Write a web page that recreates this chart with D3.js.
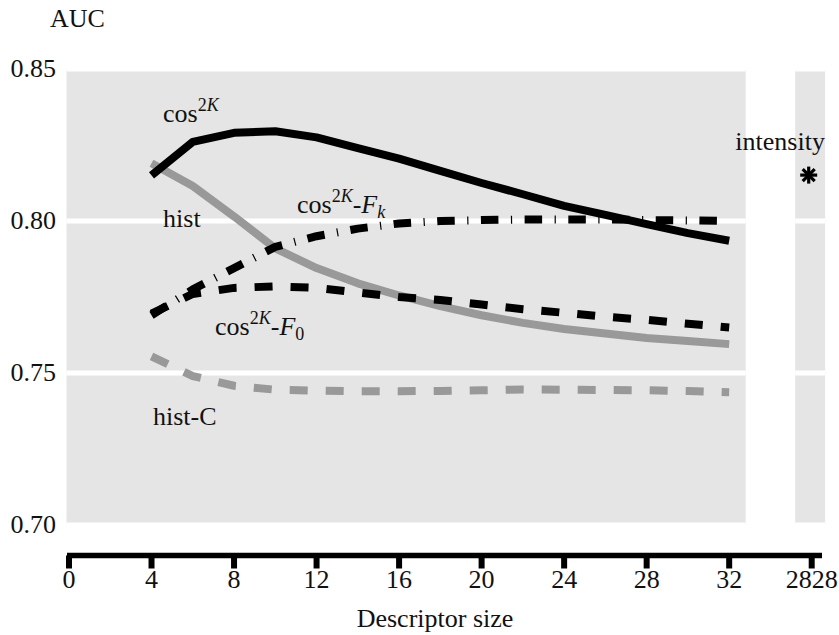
<!DOCTYPE html>
<html>
<head>
<meta charset="utf-8">
<script src="https://cdn.jsdelivr.net/npm/d3@7"></script>
<style>
  body { margin: 0; background: #fff; }
</style>
</head>
<body>
<svg id="chart" width="839" height="635"></svg>
<script>
// descriptor sizes on the x axis
var sizes = [4, 6, 8, 10, 12, 14, 16, 18, 20, 22, 24, 26, 28, 30, 32];

// AUC per descriptor size
var cos2K   = [0.815, 0.826, 0.829, 0.8295, 0.8275, 0.824, 0.8205, 0.8165, 0.8125, 0.8088, 0.805, 0.802, 0.799, 0.796, 0.7935];
var hist    = [0.819, 0.8115, 0.8015, 0.791, 0.7845, 0.7795, 0.7755, 0.772, 0.769, 0.7665, 0.7645, 0.763, 0.7615, 0.7605, 0.7595];
var cos2KF0 = [0.7695, 0.776, 0.778, 0.7785, 0.778, 0.7765, 0.775, 0.774, 0.7725, 0.771, 0.7698, 0.7685, 0.7675, 0.7662, 0.765];
var cos2KFk = [0.769, 0.7775, 0.7845, 0.7915, 0.795, 0.7975, 0.7992, 0.80, 0.8003, 0.8005, 0.8005, 0.8005, 0.8003, 0.8002, 0.80];
var histC   = [0.7555, 0.749, 0.7458, 0.7445, 0.7442, 0.744, 0.744, 0.7441, 0.7443, 0.7446, 0.7445, 0.7444, 0.7443, 0.7441, 0.7437];

// single "intensity" result, shown in its own strip at the far right
var intensityPos = 36;
var intensityAUC = 0.8151;

// axis ticks
var xTicks = [0, 4, 8, 12, 16, 20, 24, 28, 32, 36];
var xTickLabels = ['0', '4', '8', '12', '16', '20', '24', '28', '32', '2828'];
var yTicks = [0.70, 0.75, 0.80, 0.85];

var series = [
  { name: 'histC',   values: histC,   color: '#999', dash: '18,18' },
  { name: 'hist',    values: hist,    color: '#999', dash: null },
  { name: 'cos2KF0', values: cos2KF0, color: '#000', dash: '18,18' },
  { name: 'cos2KFk', values: cos2KFk, color: '#000', dash: '17.5,12.5,1.2,12.5' },
  { name: 'cos2K',   values: cos2K,   color: '#000', dash: null }
];

var FONT = '"Liberation Serif", "Times New Roman", serif';
var svg = d3.select('#chart');

var x = d3.scaleLinear().domain([0, 36]).range([69, 811.7]);
var y = d3.scaleLinear().domain([0.70, 0.85]).range([525, 69]);

// background strips
var strips = [[-0.12, 32.8], [35.2, 36.65]];
svg.selectAll('rect.strip')
  .data(strips)
  .enter()
  .append('rect')
  .attr('class', 'strip')
  .attr('x', d => x(d[0]))
  .attr('width', d => x(d[1]) - x(d[0]))
  .attr('y', y(0.85))
  .attr('height', y(0.70) - y(0.85))
  .attr('fill', '#e5e5e5');

// white grid lines over the strips
strips.forEach(function(s) {
  svg.selectAll(null)
    .data(yTicks)
    .enter()
    .append('line')
    .attr('x1', x(s[0])).attr('x2', x(s[1]))
    .attr('y1', d => y(d)).attr('y2', d => y(d))
    .attr('stroke', '#fff')
    .attr('stroke-width', 5);
});

// y tick labels
svg.selectAll('text.ylab')
  .data(yTicks)
  .enter()
  .append('text')
  .attr('class', 'ylab')
  .attr('x', 56)
  .attr('y', d => y(d) + 8)
  .attr('text-anchor', 'end')
  .attr('font-size', 26)
  .text(d => d3.format('.2f')(d));

// x axis: thick bar with stubby ticks
var axisY = 555.5;
svg.append('line')
  .attr('x1', x(0) - 2).attr('x2', x(36.5))
  .attr('y1', axisY).attr('y2', axisY)
  .attr('stroke', '#000')
  .attr('stroke-width', 5.5);

svg.selectAll('rect.tick')
  .data(xTicks)
  .enter()
  .append('rect')
  .attr('class', 'tick')
  .attr('x', d => x(d) - 3)
  .attr('y', axisY)
  .attr('width', 6)
  .attr('height', 13)
  .attr('fill', '#000');

svg.selectAll('text.xlab')
  .data(xTicks)
  .enter()
  .append('text')
  .attr('class', 'xlab')
  .attr('x', d => x(d))
  .attr('y', 588)
  .attr('text-anchor', 'middle')
  .attr('font-size', 26)
  .text((d, i) => xTickLabels[i]);

svg.append('text')
  .attr('x', 435).attr('y', 627)
  .attr('text-anchor', 'middle')
  .attr('font-size', 26)
  .text('Descriptor size');

svg.append('text')
  .attr('x', 50).attr('y', 27)
  .attr('font-size', 26)
  .text('AUC');

// lines
var line = d3.line()
  .x((d, i) => x(sizes[i]))
  .y(d => y(d));

svg.selectAll('path.series')
  .data(series)
  .enter()
  .append('path')
  .attr('class', 'series')
  .attr('d', d => line(d.values))
  .attr('fill', 'none')
  .attr('stroke', d => d.color)
  .attr('stroke-width', 8)
  .attr('stroke-linejoin', 'round')
  .attr('stroke-dasharray', d => d.dash);

// intensity asterisk (8 arms)
var cx = x(intensityPos) - 3, cy = y(intensityAUC);
[0, 45, 90, 135].forEach(function(a) {
  var r = 8.5, t = a * Math.PI / 180;
  svg.append('line')
    .attr('x1', cx - r * Math.cos(t)).attr('y1', cy - r * Math.sin(t))
    .attr('x2', cx + r * Math.cos(t)).attr('y2', cy + r * Math.sin(t))
    .attr('stroke', '#000')
    .attr('stroke-width', 3.2);
});

// curve labels
function cosLabel(sel, sub) {
  sel.append('tspan').text('cos');
  sel.append('tspan').attr('dy', -11).attr('font-size', 18).text('2');
  sel.append('tspan').attr('font-size', 18).attr('font-style', 'italic').text('K');
  if (sub) {
    sel.append('tspan').attr('dy', 11).text('-');
    sel.append('tspan').attr('font-style', 'italic').text('F');
    sel.append('tspan').attr('dy', 5).attr('font-size', 18)
      .attr('font-style', sub === 'k' ? 'italic' : 'normal').text(sub);
  }
}

var labels = [
  { pos: [4.56, 0.8326], kind: 'cos' },
  { pos: [4.56, 0.7980], text: 'hist' },
  { pos: [11.05, 0.8026], kind: 'cos', sub: 'k' },
  { pos: [7.08, 0.7625], kind: 'cos', sub: '0' },
  { pos: [4.07, 0.7329], text: 'hist-C' }
];

labels.forEach(function(l) {
  var t = svg.append('text')
    .attr('x', x(l.pos[0]))
    .attr('y', y(l.pos[1]))
    .attr('font-size', 26);
  if (l.kind === 'cos') cosLabel(t, l.sub);
  else t.text(l.text);
});

svg.append('text')
  .attr('x', x(34.47))
  .attr('y', y(0.8234))
  .attr('text-anchor', 'middle')
  .attr('font-size', 26)
  .text('intensity');

// serif face on every text and tspan
svg.selectAll('text, tspan')
  .style('font-family', FONT)
  .style('fill', '#111');
</script>
</body>
</html>
